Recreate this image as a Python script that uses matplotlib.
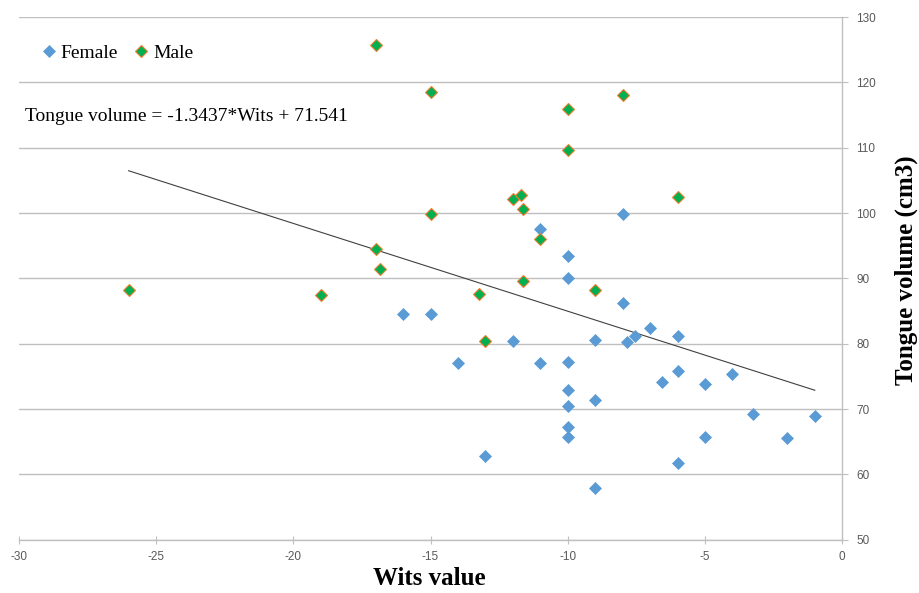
import numpy as np
import matplotlib
matplotlib.use("Agg")
import matplotlib.pyplot as plt

plt.rcParams['axes.unicode_minus'] = False

# Female subjects (Wits value, tongue volume)
female_wits = [-16, -15, -14, -13, -12, -11, -11, -10, -10, -10, -10, -10, -10, -10,
               -9, -9, -9, -8, -8, -7.85, -7.55, -7, -6, -6, -6.55, -6, -5, -5,
               -4, -3.25, -2, -1]
female_vol = [84.5, 84.55, 77.0, 62.8, 80.4, 97.5, 77.0, 93.5, 90.1, 77.2, 72.9, 70.4, 67.3, 65.7,
              80.5, 71.35, 58.0, 99.8, 86.2, 80.2, 81.2, 82.4, 81.2, 75.8, 74.1, 61.7, 73.9, 65.7,
              75.4, 69.25, 65.6, 69.0]

# Male subjects
male_wits = [-26, -19, -17, -17, -16.85, -15, -15, -13.25, -13, -12, -11.7, -11.65, -11.65,
             -11, -10, -10, -9, -8, -6]
male_vol = [88.2, 87.4, 125.7, 94.5, 91.4, 118.5, 99.85, 87.6, 80.4, 102.1, 102.8, 100.6, 89.6,
            96.0, 115.9, 109.65, 88.3, 118.0, 102.4]

# linear trend line given on the chart
slope = -1.3437
intercept = 71.541
trend_x = np.array([-26, -1])

xticks = [-30, -25, -20, -15, -10, -5, 0]
yticks = [50, 60, 70, 80, 90, 100, 110, 120, 130]

serif = ['Liberation Serif', 'DejaVu Serif']
tickfont = ['Liberation Sans Narrow', 'Liberation Sans', 'DejaVu Sans']
grey = '#BFBFBF'

fig = plt.figure(figsize=(9.19, 5.93), dpi=100)
ax = fig.add_axes([0.0205, 0.0897, 0.896, 0.8816])

ax.set_xlim(-30, 0)
ax.set_ylim(50, 130)
ax.set_xticks(xticks)
ax.set_yticks(yticks)

ax.yaxis.grid(True, color=grey, lw=1)
ax.set_axisbelow(True)

for s in ['left', 'top']:
    ax.spines[s].set_visible(False)
for s in ['right', 'bottom']:
    ax.spines[s].set_color(grey)
    ax.spines[s].set_linewidth(1)

ax.yaxis.tick_right()
ax.tick_params(axis='y', direction='out', length=4, color=grey, pad=6, labelcolor='#595959')
ax.tick_params(axis='x', direction='inout', length=6, color=grey, pad=5, labelcolor='#595959')
for lab in ax.get_xticklabels() + ax.get_yticklabels():
    lab.set_family(tickfont)
    lab.set_fontsize(8.5)

ax.plot(trend_x, slope * trend_x + intercept, color='#404040', lw=0.8, zorder=2)

ax.plot(female_wits, female_vol, 'D', ms=5.8, color='#5B9BD5', mec='#5B9BD5',
        mew=0.5, ls='none', label='Female', zorder=3)
ax.plot(male_wits, male_vol, 'D', ms=5.8, color='#00B050', mec='#ED7D31',
        mew=0.8, ls='none', label='Male', zorder=3)

leg = ax.legend(loc='upper left', bbox_to_anchor=(0.02, 0.962), ncol=2, frameon=False,
                prop={'family': serif, 'size': 14}, handlelength=0.6, handletextpad=0.3,
                columnspacing=0.9, borderaxespad=0)

ax.text(0.008, 0.81, 'Tongue volume = -1.3437*Wits + 71.541', transform=ax.transAxes,
        family=serif, fontsize=14, va='center', ha='left')

fig.text(0.467, 0.025, 'Wits value', family=serif, fontsize=18, fontweight='bold',
         ha='center', va='center')
fig.text(0.986, 0.545, 'Tongue volume (cm3)', rotation=90, family=serif, fontsize=18,
         fontweight='bold', ha='center', va='center')

fig.savefig('out.png', dpi=100)
